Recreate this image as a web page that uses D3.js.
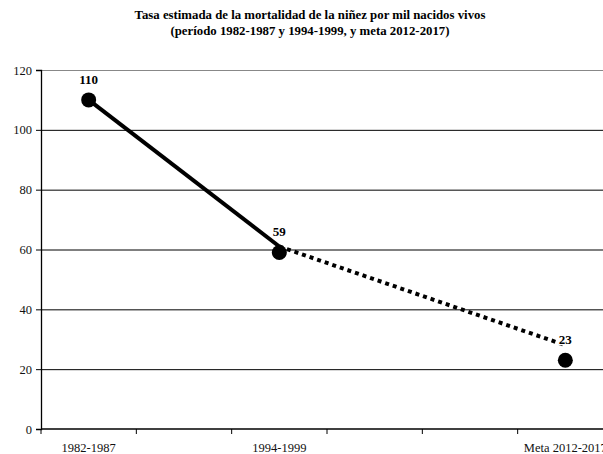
<!DOCTYPE html>
<head>
<meta charset="utf-8">
<script src="https://d3js.org/d3.v7.min.js"></script>
<style>
body { margin: 0; background: #fff; }
svg { font-family: "Liberation Serif", "Times New Roman", serif; }
.title { font-size: 12.8px; font-weight: bold; }
.axis text { font-size: 12.5px; fill: #111; }
.lbl { font-size: 13px; font-weight: bold; }
</style>
</head>
<body>
<div id="chart"></div>
<script>

// categories on the x axis (empty slots keep the spacing)
var categories = ["1982-1987", "", "1994-1999", "", "", "Meta 2012-2017"];
// marker values and their category slot
var pointSlots = [0, 2, 5];
var pointValues = [110, 59, 23];
// line values (solid up to 1994-1999, dotted to the goal)
var lineValues = [110, 61, 28];
var yTicks = [0, 20, 40, 60, 80, 100, 120];

var width = 603, height = 454;
var plotLeft = 41, plotRight = 613, plotTop = 70, plotBottom = 429;

var svg = d3.select("#chart").append("svg")
  .attr("width", width)
  .attr("height", height);

var x = d3.scaleBand()
  .domain(d3.range(categories.length))
  .range([plotLeft, plotRight])
  .padding(0);

var y = d3.scaleLinear()
  .domain([0, 120])
  .range([plotBottom, plotTop]);

var cx = i => x(i) + x.bandwidth() / 2;

/* title */
svg.append("text").attr("class", "title")
  .attr("x", 310).attr("y", 19).attr("text-anchor", "middle")
  .text("Tasa estimada de la mortalidad de la niñez por mil nacidos vivos");
svg.append("text").attr("class", "title")
  .attr("x", 310).attr("y", 35).attr("text-anchor", "middle")
  .text("(período 1982-1987 y 1994-1999, y meta 2012-2017)");

/* gridlines */
svg.append("g").selectAll("line")
  .data(yTicks.filter(d => d > 0)).enter()
  .append("line")
  .attr("x1", plotLeft).attr("x2", width)
  .attr("y1", d => y(d) + 0.5).attr("y2", d => y(d) + 0.5)
  .attr("stroke", d => d == 120 ? "#888" : "#000")
  .attr("stroke-width", 1);

/* axes */
var yAxis = d3.axisLeft(y).tickValues(yTicks).tickSize(5).tickPadding(4);
svg.append("g").attr("class", "axis")
  .attr("transform", `translate(${plotLeft},0)`)
  .call(yAxis)
  .attr("font-family", null).attr("font-size", null)
  .call(g => g.select(".domain").attr("stroke-width", 1.3));

var xAxis = d3.axisBottom(x).tickSize(0).tickFormat(i => categories[i]).tickPadding(14);
var xg = svg.append("g").attr("class", "axis")
  .attr("transform", `translate(0,${plotBottom})`)
  .call(xAxis);
xg.attr("font-family", null).attr("font-size", null);
xg.select(".domain").attr("d", `M${plotLeft},0H${width}`).attr("stroke-width", 1.3);

// boundary ticks between categories
xg.selectAll(".bt")
  .data(d3.range(categories.length + 1)).enter()
  .append("line")
  .attr("x1", i => plotLeft + i * x.bandwidth())
  .attr("x2", i => plotLeft + i * x.bandwidth())
  .attr("y1", 0).attr("y2", 5)
  .attr("stroke", "#000");

/* lines */
var line = d3.line()
  .x(d => cx(d.slot))
  .y(d => y(d.v));
var lp = pointSlots.map((s, i) => ({slot: s, v: lineValues[i]}));

svg.append("path")
  .attr("d", line(lp.slice(0, 2)))
  .attr("fill", "none").attr("stroke", "#000")
  .attr("stroke-width", 4);

svg.append("path")
  .attr("d", line(lp.slice(1)))
  .attr("fill", "none").attr("stroke", "#000")
  .attr("stroke-width", 4)
  .attr("stroke-dasharray", "4,4");

/* markers */
svg.append("g").selectAll("circle")
  .data(pointValues).enter()
  .append("circle")
  .attr("cx", (d, i) => cx(pointSlots[i]))
  .attr("cy", d => y(d))
  .attr("r", 7.5)
  .attr("fill", "#000");

/* value labels */
svg.append("g").selectAll("text")
  .data(pointValues).enter()
  .append("text").attr("class", "lbl")
  .attr("x", (d, i) => cx(pointSlots[i]))
  .attr("y", d => y(d) - 16)
  .attr("text-anchor", "middle")
  .attr("stroke", "#fff").attr("stroke-width", 2.5)
  .attr("paint-order", "stroke")
  .text(d => d);

</script>
</body>
</html>
